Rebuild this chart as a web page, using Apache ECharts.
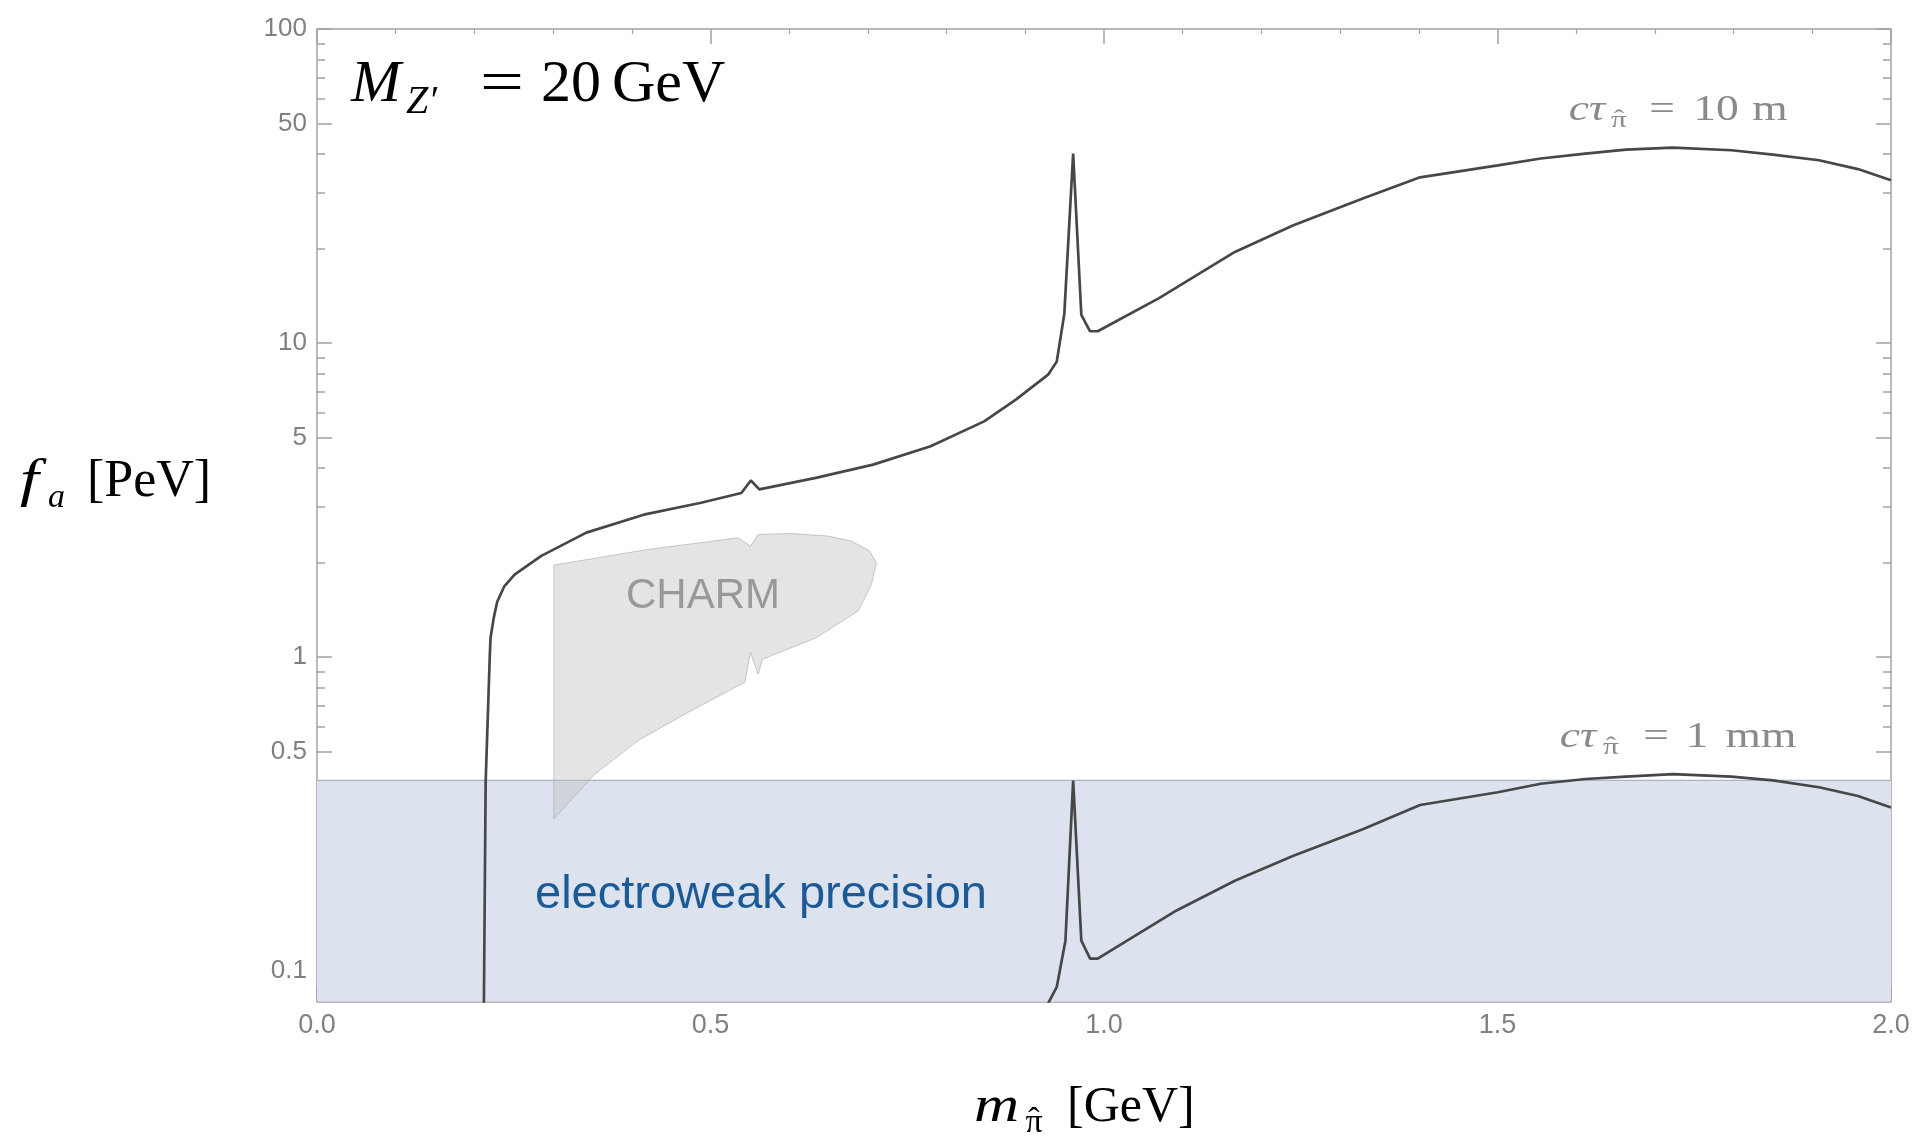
<!DOCTYPE html>
<html>
<head>
<meta charset="utf-8">
<script src="https://cdn.jsdelivr.net/npm/echarts@6/dist/echarts.min.js"></script>
<style>
  html, body { margin: 0; padding: 0; background: #fff; }
  #chart { width: 1916px; height: 1136px; }
</style>
</head>
<body>
<div id="chart"></div>
<script>
// cτ = 10 m contour
const m10m = [0.2120, 0.2143, 0.2195, 0.2205, 0.2245, 0.229, 0.238, 0.251, 0.285, 0.3423, 0.4152, 0.4881, 0.5392, 0.5513, 0.562,
  0.6338, 0.7067, 0.7797, 0.8477, 0.888, 0.929, 0.940, 0.9496, 0.9608, 0.9712, 0.9823, 0.992, 1.07,
  1.1663, 1.2407, 1.3297, 1.4016, 1.5004, 1.555, 1.6116, 1.6633, 1.7229, 1.7972, 1.85, 1.9085, 1.958, 2.0]
const fa10m = [0.075, 0.40, 1.0, 1.15, 1.33, 1.5, 1.68, 1.83, 2.1, 2.49, 2.84, 3.10, 3.33, 3.65, 3.42,
  3.72, 4.10, 4.69, 5.63, 6.60, 7.93, 8.74, 12.4, 40.1, 12.3, 10.9, 10.9, 13.9,
  19.5, 23.7, 28.9, 33.7, 36.8, 38.7, 40.1, 41.3, 41.9, 41.1, 39.8, 38.2, 35.8, 33.0]

// cτ = 1 mm contour
const m1mm = [0.928, 0.940, 0.951, 0.9608, 0.9712, 0.9823, 0.992, 1.0922, 1.1663, 1.2407, 1.3297, 1.4016,
  1.5004, 1.555, 1.6116, 1.6633, 1.7229, 1.7972, 1.85, 1.9085, 1.958, 2.0]
const fa1mm = [0.078, 0.089, 0.125, 0.404, 0.125, 0.1096, 0.1096, 0.156, 0.194, 0.233, 0.2836, 0.338,
  0.371, 0.395, 0.409, 0.416, 0.424, 0.416, 0.405, 0.385, 0.361, 0.332]

// CHARM excluded region (outline)
const charmX = [0.301, 0.42, 0.5351, 0.5508, 0.5606, 0.6028, 0.6486, 0.679, 0.7022, 0.7108, 0.7044,
  0.6875, 0.6338, 0.5659, 0.5606, 0.5508, 0.5435, 0.5351, 0.4673, 0.4081, 0.3531, 0.301]
const charmF = [1.963, 2.2, 2.398, 2.256, 2.456, 2.474, 2.43, 2.341, 2.175, 1.996, 1.70,
  1.402, 1.15, 0.984, 0.882, 1.034, 0.829, 0.810, 0.658, 0.542, 0.424, 0.305]

// electroweak precision bound
const ewX = [0, 2]
const ewF = [0.405, 0.405]

const yMajor = [0.1, 0.5, 1, 5, 10, 50, 100]
const yMinor = [0.09, 0.2, 0.3, 0.4, 0.6, 0.7, 0.8, 0.9, 2, 3, 4, 6, 7, 8, 9, 20, 30, 40, 60, 70, 80, 90]

const frame = '#a3a3a3'
const grey = '#8a8a8a'
const serif = '"Liberation Serif", "DejaVu Serif", serif'

function pairs(xs, ys) {
  return xs.map((x, i) => [x, ys[i]])
}

// one piece of a math-style label, placed by its baseline
function tx(x, base, str, size, italic, color, opt) {
  opt = opt || {}
  return {
    type: 'text', x: x, y: base - 0.34 * size, z: 100,
    scaleX: opt.sx || 1,
    style: {
      text: str,
      font: (italic ? 'italic ' : '') + size + 'px ' + serif,
      fill: color || '#000',
      textAlign: opt.align || 'left',
      textVerticalAlign: 'middle'
    }
  }
}

// pi with a hat, centred on cx
function hatPi(cx, base, size, color, sx) {
  return [
    tx(cx, base, 'π', size, false, color, { align: 'center', sx: sx }),
    tx(cx, base - 0.05 * size, '\u02C6', size, false, color, { align: 'center', sx: sx })
  ]
}

function xAxisCfg(pos) {
  return {
    type: 'value', min: 0, max: 2, interval: 0.5, position: pos,
    axisLine: { show: true, lineStyle: { color: frame, width: 1.5 } },
    axisTick: { show: true, inside: true, length: 15, lineStyle: { color: frame, width: 1.5 } },
    minorTick: { show: true, splitNumber: 5, length: 5, lineStyle: { color: frame, width: 1.2 } },
    axisLabel: {
      show: pos === 'bottom', color: '#808080', fontSize: 27, fontFamily: 'Liberation Sans',
      margin: 11, formatter: v => v.toFixed(1)
    },
    splitLine: { show: false }
  }
}

function yAxisCfg(pos, ticks, len, labels, line) {
  return {
    type: 'log', logBase: 10, min: 0.08, max: 100, position: pos,
    axisLine: { show: line, lineStyle: { color: frame, width: 1.5 } },
    axisTick: { show: true, inside: true, length: len, customValues: ticks, lineStyle: { color: frame, width: 1.5 } },
    axisLabel: {
      show: labels, customValues: ticks, color: '#808080', fontSize: 26,
      fontFamily: 'Liberation Sans', margin: 10, formatter: v => String(v)
    },
    minorTick: { show: false },
    splitLine: { show: false }
  }
}

const chart = echarts.init(document.getElementById('chart'))
chart.setOption({
  animation: false,
  backgroundColor: '#fff',
  grid: { left: 317, right: 25, top: 29, bottom: 134.5 },
  xAxis: [xAxisCfg('bottom'), xAxisCfg('top')],
  yAxis: [
    yAxisCfg('left', yMajor, 15, true, true),
    yAxisCfg('left', yMinor, 8, false, false),
    yAxisCfg('right', yMajor, 15, false, true),
    yAxisCfg('right', yMinor, 8, false, false)
  ],
  series: [
    {
      name: 'electroweak precision',
      type: 'line', xAxisIndex: 0, yAxisIndex: 0, z: 1,
      data: pairs(ewX, ewF),
      showSymbol: false,
      lineStyle: { color: '#a9b4c6', width: 1.2 },
      areaStyle: { color: '#dde3ee', opacity: 1, origin: 'start' },
      silent: true
    },
    {
      name: 'CHARM',
      type: 'custom', xAxisIndex: 0, yAxisIndex: 0, z: 2,
      data: pairs(charmX, charmF),
      renderItem: (params, api) => {
        if (params.dataIndex !== 0) return
        const pts = charmX.map((x, i) => api.coord([x, charmF[i]]))
        return {
          type: 'polygon',
          shape: { points: pts },
          style: { fill: 'rgba(190,190,190,0.42)', stroke: 'rgba(160,160,160,0.55)', lineWidth: 1 }
        }
      },
      silent: true
    },
    {
      name: 'ctau 10 m',
      type: 'line', xAxisIndex: 0, yAxisIndex: 0, z: 3,
      data: pairs(m10m, fa10m),
      showSymbol: false,
      lineStyle: { color: '#474747', width: 2.7 }
    },
    {
      name: 'ctau 1 mm',
      type: 'line', xAxisIndex: 0, yAxisIndex: 0, z: 3,
      data: pairs(m1mm, fa1mm),
      showSymbol: false,
      lineStyle: { color: '#474747', width: 2.7 }
    }
  ],
  graphic: [
    // M_Z' = 20 GeV
    tx(351, 106, 'M', 60, true),
    tx(406, 116, 'Z\u2032', 40, true),
    tx(502, 106, '=', 60, false, null, { align: 'center', sx: 1.3 }),
    tx(541, 106, '20', 60, false),
    tx(612, 106, 'GeV', 60, false),
    // y axis title
    tx(20, 500, 'f', 52, true, null, { sx: 1.3 }),
    tx(48, 510, 'a', 34, true),
    tx(87, 500, '[PeV]', 52, false),
    // x axis title
    tx(974, 1125, 'm', 50, true, null, { sx: 1.25 }),
    hatPi(1034, 1135, 34, '#000', 1),
    tx(1067, 1125, '[GeV]', 50, false),
    // contour labels
    tx(1587, 123, 'cτ', 35, true, grey, { align: 'center', sx: 1.3 }),
    hatPi(1619, 129, 24, grey, 1.3),
    tx(1662, 123, '=', 35, false, grey, { align: 'center', sx: 1.3 }),
    tx(1716, 123, '10', 35, false, grey, { align: 'center', sx: 1.3 }),
    tx(1770, 123, 'm', 35, false, grey, { align: 'center', sx: 1.3 }),
    tx(1578, 750, 'cτ', 35, true, grey, { align: 'center', sx: 1.3 }),
    hatPi(1611, 756, 24, grey, 1.3),
    tx(1656, 750, '=', 35, false, grey, { align: 'center', sx: 1.3 }),
    tx(1697, 750, '1', 35, false, grey, { align: 'center', sx: 1.3 }),
    tx(1761, 750, 'mm', 35, false, grey, { align: 'center', sx: 1.3 }),
    {
      type: 'text', x: 703, y: 596, z: 100,
      style: { text: 'CHARM', font: '42px "Liberation Sans"', fill: '#999999', textAlign: 'center', textVerticalAlign: 'middle' }
    },
    {
      type: 'text', x: 761, y: 895, z: 100,
      style: { text: 'electroweak precision', font: '47px "Liberation Sans"', fill: '#1c5a97', textAlign: 'center', textVerticalAlign: 'middle' }
    }
  ].flat()
})
</script>
</body>
</html>
